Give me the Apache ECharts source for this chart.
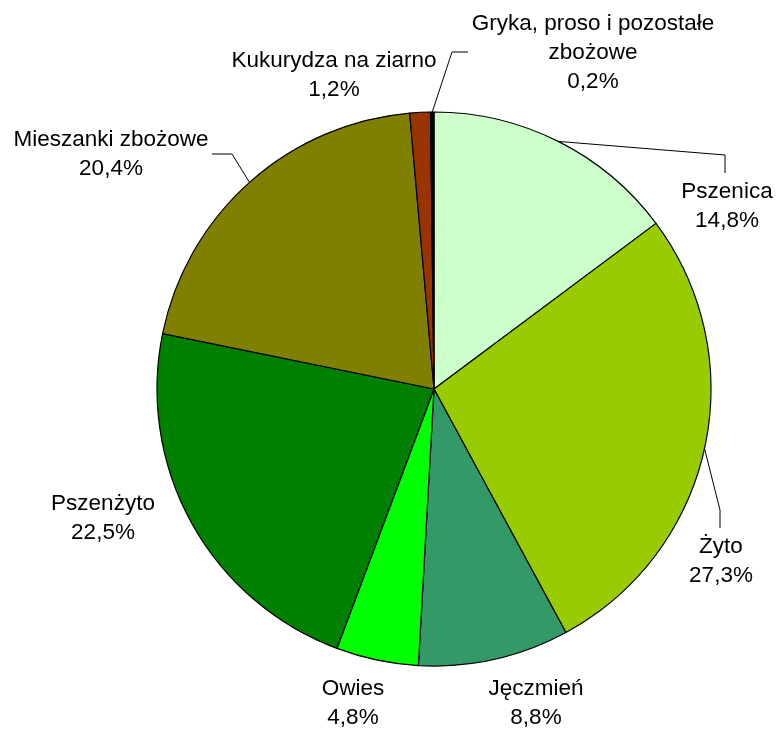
<!DOCTYPE html>
<html>
<head>
<meta charset="utf-8">
<script src="https://cdn.jsdelivr.net/npm/echarts@6/dist/echarts.min.js"></script>
<style>
  html, body { margin: 0; padding: 0; background: #fff; }
  #chart { width: 777px; height: 729px; }
</style>
</head>
<body>
<div id="chart"></div>
<script>
// dane
const categories = ['Pszenica', 'Żyto', 'Jęczmień', 'Owies', 'Pszenżyto',
  'Mieszanki zbożowe', 'Kukurydza na ziarno', 'Gryka, proso i pozostałe\nzbożowe'];
const shares = [14.8, 27.3, 8.8, 4.8, 22.5, 20.4, 1.2, 0.2];
const colors = ['#CCFFCC', '#99CC00', '#339966', '#00FF00', '#008000', '#808000', '#993300', '#000000'];

// położenie etykiet (środek bloku tekstu) i łamanie linii odnośnika
const labelPos = [
  { x: 727, y: 206, line: [[725, 155], [725, 173]] },
  { x: 721, y: 561, line: [[720, 510], [720, 528]] },
  { x: 536, y: 703 },
  { x: 353, y: 703 },
  { x: 103, y: 518 },
  { x: 111, y: 154, line: [[232, 154], [212, 154]] },
  { x: 334, y: 75 },
  { x: 593, y: 53, line: [[452, 52], [468, 52]] },
];

const chart = echarts.init(document.getElementById('chart'), null, { renderer: 'canvas' });

const option = {
  animation: false,
  backgroundColor: '#ffffff',
  series: [
    {
      type: 'pie',
      center: [434, 389],
      radius: 277,
      startAngle: 90,
      clockwise: true,
      avoidLabelOverlap: false,
      itemStyle: {
        borderColor: '#000000',
        borderWidth: 1.2,
      },
      label: {
        position: 'outside',
        color: '#000000',
        fontFamily: 'Liberation Sans, Arial, sans-serif',
        fontSize: 22.5,
        lineHeight: 29,
        align: 'center',
        formatter: (p) => p.name + '\n' + p.value.toFixed(1).replace('.', ',') + '%',
      },
      labelLine: {
        lineStyle: { color: '#000000', width: 1 },
      },
      labelLayout: (params) => {
        const p = labelPos[params.dataIndex];
        const res = { x: p.x, y: p.y, align: 'center', verticalAlign: 'middle' };
        if (p.line && params.labelLinePoints) {
          res.labelLinePoints = [params.labelLinePoints[0], p.line[0], p.line[1]];
        }
        return res;
      },
      emphasis: { disabled: true },
      data: categories.map((name, i) => ({
        name: name,
        value: shares[i],
        itemStyle: { color: colors[i] },
        labelLine: { show: !!labelPos[i].line },
      })),
    },
  ],
};

chart.setOption(option);
</script>
</body>
</html>
